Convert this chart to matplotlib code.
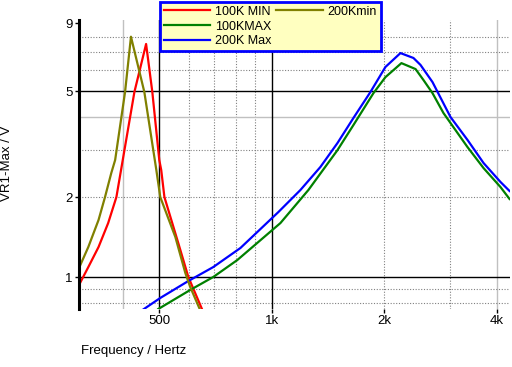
import matplotlib
matplotlib.use("Agg")
import matplotlib.pyplot as plt
from matplotlib.ticker import FixedLocator, NullLocator, NullFormatter

plt.rcParams['font.family'] = ['Liberation Sans', 'DejaVu Sans']

# 100K MIN (red)
f_100kmin = [305, 323, 344, 365, 384, 429, 461, 479, 500, 506, 516, 562, 598, 652]
v_100kmin = [0.933, 1.09, 1.297, 1.596, 2.0, 4.97, 7.53, 4.97, 2.755, 2.527, 2.0, 1.342, 1.0, 0.751]

# 200Kmin (olive)
f_200kmin = [305, 323, 344, 358, 372, 381, 405, 420, 456, 491, 503, 552, 587, 605, 643]
v_200kmin = [1.081, 1.297, 1.639, 2.0, 2.46, 2.755, 4.97, 8.02, 4.97, 2.527, 2.0, 1.414, 1.035, 0.917, 0.751]

# 100KMAX (green)
f_100kmax = [497, 605, 697, 808, 1054, 1252, 1497, 1652, 1869, 2012, 2220, 2422, 2543, 2688,
             2876, 3336, 3681, 4086, 4320]
v_100kmax = [0.758, 0.894, 1.0, 1.158, 1.596, 2.125, 3.0, 3.73, 4.92, 5.65, 6.38, 6.06, 5.51, 4.92,
             4.14, 3.08, 2.57, 2.18, 1.966]

# 200K Max (blue)
f_200kmax = [450, 503, 598, 697, 824, 1041, 1192, 1348, 1497, 1652, 1835, 2012, 2207, 2391, 2497,
             2688, 3003, 3336, 3681, 4086, 4320]
v_200kmax = [0.75, 0.834, 0.966, 1.09, 1.286, 1.756, 2.125, 2.594, 3.19, 3.965, 4.97, 6.17, 6.96, 6.67, 6.28,
             5.415, 4.0, 3.277, 2.685, 2.278, 2.107]

x_ticks = [500, 1000, 2000, 4000]
x_labels = ['500', '1k', '2k', '4k']
y_ticks = [1, 2, 5, 9]
y_labels = ['1', '2', '5', '9']

fig = plt.figure(figsize=(5.12, 3.67), dpi=100)
ax = fig.add_axes([79/512, 1 - 309/367, 431/512, 289/367])
ax.set_xscale('log')
ax.set_yscale('log')
ax.set_xlim(305, 4332)
ax.set_ylim(0.758, 9.27)

# grid lines
for f in [600, 700, 800, 900, 2000, 3000]:
    ax.axvline(f, color='#808080', lw=0.8, ls=(0, (1, 1.5)), zorder=0)
for f in [400, 4000]:
    ax.axvline(f, color='#c0c0c0', lw=1, zorder=0)
for f in [500, 1000]:
    ax.axvline(f, color='black', lw=1, zorder=0.5)
for v in [0.8, 0.9, 2, 3, 6, 7, 8]:
    ax.axhline(v, color='#808080', lw=0.8, ls=(0, (1, 1.5)), zorder=0)
ax.axhline(4, color='#c0c0c0', lw=1, zorder=0)
for v in [1, 5]:
    ax.axhline(v, color='black', lw=1, zorder=0.5)

l1, = ax.plot(f_100kmin, v_100kmin, color='#ff0000', lw=1.6, label='100K MIN')
l2, = ax.plot(f_100kmax, v_100kmax, color='#008000', lw=1.6, label='100KMAX')
l3, = ax.plot(f_200kmax, v_200kmax, color='#0000ff', lw=1.6, label='200K Max')
l4, = ax.plot(f_200kmin, v_200kmin, color='#808000', lw=1.6, label='200Kmin')

ax.xaxis.set_major_locator(FixedLocator(x_ticks))
ax.xaxis.set_minor_locator(NullLocator())
ax.xaxis.set_minor_formatter(NullFormatter())
ax.set_xticklabels(x_labels)
ax.yaxis.set_major_locator(FixedLocator(y_ticks))
ax.yaxis.set_minor_locator(NullLocator())
ax.yaxis.set_minor_formatter(NullFormatter())
ax.set_yticklabels(y_labels)
ax.tick_params(length=3, width=1, labelsize=9.5, pad=1.5)

for s in ['top', 'right', 'bottom']:
    ax.spines[s].set_visible(False)
ax.spines['left'].set_linewidth(2.2)

fig.text(81/512, 1 - 351/367, 'Frequency / Hertz', fontsize=9.5, va='center', ha='left')
fig.text(7/512, 1 - 163/367, 'VR1-Max / V', fontsize=9.5, va='center', ha='center', rotation=90)

blank = plt.Line2D([], [], alpha=0)
leg = fig.legend([l1, l2, l3, l4, blank, blank], ['100K MIN', '100KMAX', '200K Max', '200Kmin', '', ''],
                 ncol=2, loc='upper left', bbox_to_anchor=(160/512, 1 - 2/367),
                 fontsize=9, fancybox=False, framealpha=1, handlelength=3.7,
                 handletextpad=0.4, columnspacing=0.4, labelspacing=0.22, borderpad=0.3,
                 borderaxespad=0)
leg.get_frame().set_facecolor('#ffffc0')
leg.get_frame().set_edgecolor('#0000ff')
leg.get_frame().set_linewidth(2)

fig.savefig('out.png', dpi=100)
